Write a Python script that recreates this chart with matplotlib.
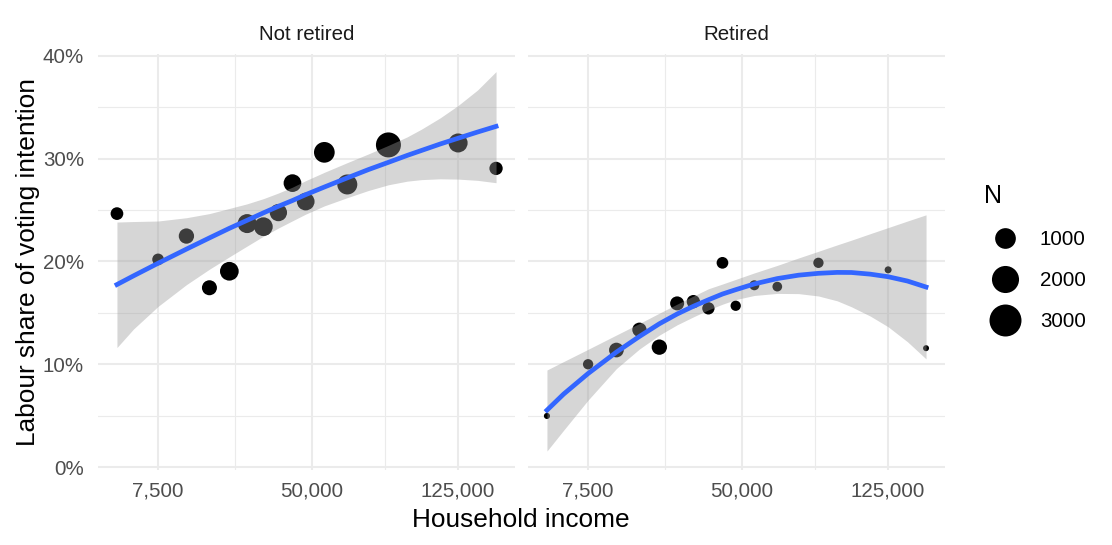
import numpy as np
import matplotlib
matplotlib.use('Agg')
import matplotlib.pyplot as plt
from matplotlib.lines import Line2D

plt.rcParams['font.family'] = ['Liberation Sans', 'DejaVu Sans']

# income band midpoints
income = [2500, 7500, 12500, 17500, 22500, 27500, 32500, 37500,
          42500, 47500, 55000, 65000, 85000, 125000, 150000]

# Labour share and respondents per band
not_retired_share = [0.2465, 0.2020, 0.2247, 0.1745, 0.1905, 0.2368, 0.2338, 0.2475,
                     0.2761, 0.2582, 0.3060, 0.2748, 0.3132, 0.3151, 0.2904]
not_retired_n = [231, 173, 422, 397, 757, 791, 757, 607, 648, 648, 1000, 911, 1636, 791, 270]

retired_share = [0.0500, 0.1002, 0.1140, 0.1337, 0.1168, 0.1593, 0.1610, 0.1545,
                 0.1987, 0.1570, 0.1769, 0.1756, 0.1987, 0.1919, 0.1158]
retired_n = [3, 105, 372, 341, 422, 319, 270, 207, 173, 105, 93, 82, 105, 12, 2]

# smoother (fit + confidence band)
smooth_x = [2500, 4200, 7500, 12500, 17500, 22500, 27500, 32500, 37500, 42500, 47500,
            55000, 65000, 75000, 85000, 95000, 103000, 114000, 125000, 137500, 150000]

nr_fit = [0.1776, 0.1861, 0.1983, 0.2120, 0.2229, 0.2322, 0.2400, 0.2472, 0.2536, 0.2592, 0.2649,
          0.2723, 0.2812, 0.2893, 0.2963, 0.3030, 0.3078, 0.3141, 0.3197, 0.3257, 0.3312]
nr_low = [0.1164, 0.1345, 0.1564, 0.1775, 0.1925, 0.2045, 0.2150, 0.2245, 0.2325, 0.2395, 0.2460,
          0.2540, 0.2620, 0.2690, 0.2745, 0.2780, 0.2795, 0.2803, 0.2800, 0.2788, 0.2765]
nr_up = [0.2383, 0.2388, 0.2393, 0.2425, 0.2465, 0.2515, 0.2560, 0.2610, 0.2665, 0.2722, 0.2785,
         0.2866, 0.2960, 0.3045, 0.3128, 0.3210, 0.3285, 0.3395, 0.3515, 0.3665, 0.3844]

r_fit = [0.0556, 0.0712, 0.0912, 0.1120, 0.1272, 0.1395, 0.1490, 0.1565, 0.1628, 0.1684, 0.1726,
         0.1782, 0.1834, 0.1867, 0.1885, 0.1894, 0.1893, 0.1877, 0.1852, 0.1810, 0.1752]
r_low = [0.0159, 0.0361, 0.0654, 0.0960, 0.1150, 0.1285, 0.1385, 0.1462, 0.1530, 0.1585, 0.1630,
         0.1670, 0.1690, 0.1688, 0.1665, 0.1618, 0.1560, 0.1470, 0.1366, 0.1220, 0.1054]
r_up = [0.0946, 0.1028, 0.1147, 0.1286, 0.1398, 0.1498, 0.1586, 0.1664, 0.1735, 0.1781, 0.1826,
        0.1889, 0.1962, 0.2034, 0.2099, 0.2161, 0.2207, 0.2270, 0.2329, 0.2393, 0.2453]

x_breaks = [7500, 50000, 125000]
x_labels = ['7,500', '50,000', '125,000']
y_breaks = [0, 0.1, 0.2, 0.3, 0.4]
y_labels = ['0%', '10%', '20%', '30%', '40%']
legend_n = [1000, 2000, 3000]

W, H = 1112, 545
fig = plt.figure(figsize=(W / 100, H / 100), dpi=100)


def diam_px(n):
    return 5.3 + 0.487 * np.sqrt(np.asarray(n, dtype=float))


fwd = lambda x: np.sqrt(np.clip(x, 0, None))
inv = lambda x: np.square(x)

sq = np.sqrt(income)
pad = 0.05 * (sq.max() - sq.min())
xlim = ((sq.min() - pad) ** 2, (sq.max() + pad) ** 2)
sb = np.sqrt(x_breaks)
x_minor = list(((sb[:-1] + sb[1:]) / 2) ** 2)
y_minor = [0.05, 0.15, 0.25, 0.35]

panels = [
    (98, 'Not retired', not_retired_share, not_retired_n, nr_fit, nr_low, nr_up),
    (528, 'Retired', retired_share, retired_n, r_fit, r_low, r_up),
]

for i, (left, title, share, n, fit, low, up) in enumerate(panels):
    ax = fig.add_axes([left / W, 75 / H, 417 / W, 416 / H])
    ax.set_xscale('function', functions=(fwd, inv))
    ax.scatter(income, share, s=(diam_px(n) * 0.72) ** 2, c='black', linewidths=0, zorder=2)
    ax.fill_between(smooth_x, low, up, color='#999999', alpha=0.4, linewidth=0, zorder=3)
    ax.plot(smooth_x, fit, color='#3366FF', lw=3.4, zorder=4)
    ax.set_xlim(xlim)
    ax.set_ylim(-0.0025, 0.4015)

    ax.set_xticks(x_breaks)
    ax.set_xticklabels(x_labels)
    ax.set_xticks(x_minor, minor=True)
    ax.set_yticks(y_breaks)
    ax.set_yticks(y_minor, minor=True)
    if i == 0:
        ax.set_yticklabels(y_labels)
    else:
        ax.set_yticklabels([])
    ax.tick_params(which='both', length=0)
    ax.tick_params(axis='x', pad=8, labelsize=14.8, labelcolor='#4D4D4D')
    ax.tick_params(axis='y', pad=10, labelsize=14.8, labelcolor='#4D4D4D')
    ax.grid(which='major', color='#EBEBEB', lw=1.45)
    ax.grid(which='minor', color='#EBEBEB', lw=0.8)
    ax.set_axisbelow(True)
    for s in ax.spines.values():
        s.set_visible(False)

    fig.text((left + 208.5) / W, 1 - 34 / H, title, ha='center', va='center',
             fontsize=14.8, color='#1A1A1A')

fig.text(521 / W, 1 - 520 / H, 'Household income', ha='center', va='center', fontsize=18.9)
fig.text(28 / W, 1 - 262 / H, 'Labour share of voting intention', ha='center', va='center',
         rotation=90, fontsize=18.9)

handles = [Line2D([], [], ls='', marker='o', color='black', markeredgewidth=0,
                  markersize=diam_px(v) * 0.72) for v in legend_n]
fig.legend(handles, [str(v) for v in legend_n], title='N', loc='upper left',
           bbox_to_anchor=(976 / W, 1 - 176 / H), frameon=False, fontsize=14.8,
           title_fontsize=18, labelspacing=1.07, handletextpad=0.7, alignment='left',
           borderaxespad=0)

fig.savefig('out.png', dpi=100)
